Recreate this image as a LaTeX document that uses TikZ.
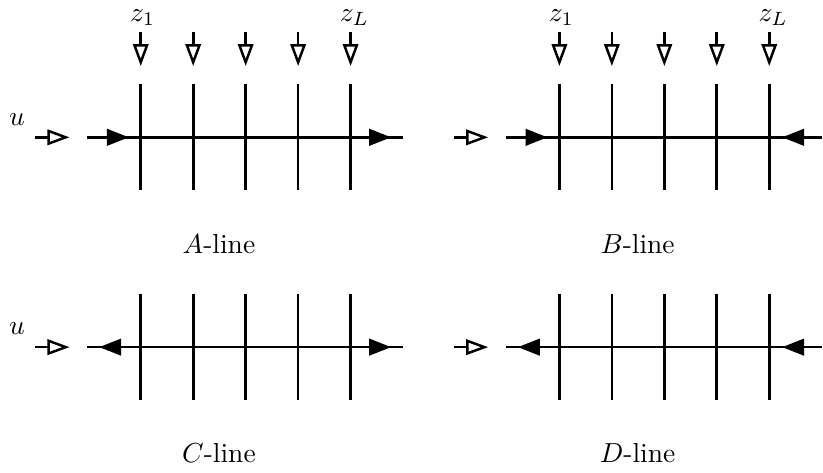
\documentclass[tikz,border=0pt]{standalone}
\usepackage{amsmath}
\usepackage{tikz}
\usetikzlibrary{arrows.meta}

\begin{document}
\begin{tikzpicture}[
    x=0.36pt, y=-0.36pt,
    wire/.style={line width=0.95pt},
    % ── hollow input arrows ──
    inarrow/.style={wire, -{Triangle[open, length=8pt, width=5.6pt, line width=0.9pt]}},
    % ── solid flow tips on the line ──
    flowtip/.style={wire, -{Triangle[length=8pt, width=6pt]}},
    linelabel/.style={anchor=base},
]

% ══════════════════════════════════════
% A-line (top left)
% ══════════════════════════════════════
\begin{scope}[shift={(0,0)}]
    \node (uA) at (16,118) {$u$};
    \coordinate (inA) at (34,136);
    \coordinate (inAend) at (69,136);
    \draw[inarrow] (inA) -- (inAend);

    \coordinate (wA) at (87,136);
    \coordinate (eA) at (406,136);
    \draw[wire] (wA) -- (eA);
    \draw[flowtip] (wA) -- (129,136);
    \draw[flowtip] (360,136) -- (394,136);

    % taps
    \draw[wire] (141,82) -- (141,189);
    \draw[wire] (194,82) -- (194,189);
    \draw[wire] (247,82) -- (247,189);
    \draw[wire] (300,82) -- (300,189);
    \draw[wire] (353,82) -- (353,189);

    % inputs z
    \draw[inarrow] (141,30) -- (141,64);
    \draw[inarrow] (194,30) -- (194,64);
    \draw[inarrow] (247,30) -- (247,64);
    \draw[inarrow] (300,30) -- (300,64);
    \draw[inarrow] (353,30) -- (353,64);
    \node[linelabel] (zA1) at (143,18.5) {$z_1$};
    \node[linelabel] (zAL) at (357,18.5) {$z_L$};

    \node[linelabel] (labA) at (220,253) {$A$-line};
\end{scope}

% ══════════════════════════════════════
% B-line (top right)
% ══════════════════════════════════════
\begin{scope}[shift={(423,0)}]
    \coordinate (inB) at (34,136);
    \coordinate (inBend) at (69,136);
    \draw[inarrow] (inB) -- (inBend);

    \coordinate (wB) at (87,136);
    \coordinate (eB) at (406,136);
    \draw[wire] (wB) -- (eB);
    \draw[flowtip] (wB) -- (129,136);
    \draw[flowtip] (406,136) -- (366,136);

    % taps
    \draw[wire] (141,82) -- (141,189);
    \draw[wire] (194,82) -- (194,189);
    \draw[wire] (247,82) -- (247,189);
    \draw[wire] (300,82) -- (300,189);
    \draw[wire] (353,82) -- (353,189);

    % inputs z
    \draw[inarrow] (141,30) -- (141,64);
    \draw[inarrow] (194,30) -- (194,64);
    \draw[inarrow] (247,30) -- (247,64);
    \draw[inarrow] (300,30) -- (300,64);
    \draw[inarrow] (353,30) -- (353,64);
    \node[linelabel] (zB1) at (143,18.5) {$z_1$};
    \node[linelabel] (zBL) at (357,18.5) {$z_L$};

    \node[linelabel] (labB) at (220,253) {$B$-line};
\end{scope}

% ══════════════════════════════════════
% C-line (bottom left)
% ══════════════════════════════════════
\begin{scope}[shift={(0,212)}]
    \node (uC) at (16,117) {$u$};
    \coordinate (inC) at (34,136);
    \coordinate (inCend) at (69,136);
    \draw[inarrow] (inC) -- (inCend);

    \coordinate (wC) at (87,136);
    \coordinate (eC) at (406,136);
    \draw[wire] (wC) -- (eC);
    \draw[flowtip] (136,136) -- (99,136);
    \draw[flowtip] (360,136) -- (394,136);

    % taps
    \draw[wire] (141,82) -- (141,189);
    \draw[wire] (194,82) -- (194,189);
    \draw[wire] (247,82) -- (247,189);
    \draw[wire] (300,82) -- (300,189);
    \draw[wire] (353,82) -- (353,189);

    \node[linelabel] (labC) at (220,253) {$C$-line};
\end{scope}

% ══════════════════════════════════════
% D-line (bottom right)
% ══════════════════════════════════════
\begin{scope}[shift={(423,212)}]
    \coordinate (inD) at (34,136);
    \coordinate (inDend) at (69,136);
    \draw[inarrow] (inD) -- (inDend);

    \coordinate (wD) at (87,136);
    \coordinate (eD) at (406,136);
    \draw[wire] (wD) -- (eD);
    \draw[flowtip] (136,136) -- (99,136);
    \draw[flowtip] (406,136) -- (366,136);

    % taps
    \draw[wire] (141,82) -- (141,189);
    \draw[wire] (194,82) -- (194,189);
    \draw[wire] (247,82) -- (247,189);
    \draw[wire] (300,82) -- (300,189);
    \draw[wire] (353,82) -- (353,189);

    \node[linelabel] (labD) at (220,253) {$D$-line};
\end{scope}

\useasboundingbox (0,0) rectangle (823,475);
\end{tikzpicture}
\end{document}
